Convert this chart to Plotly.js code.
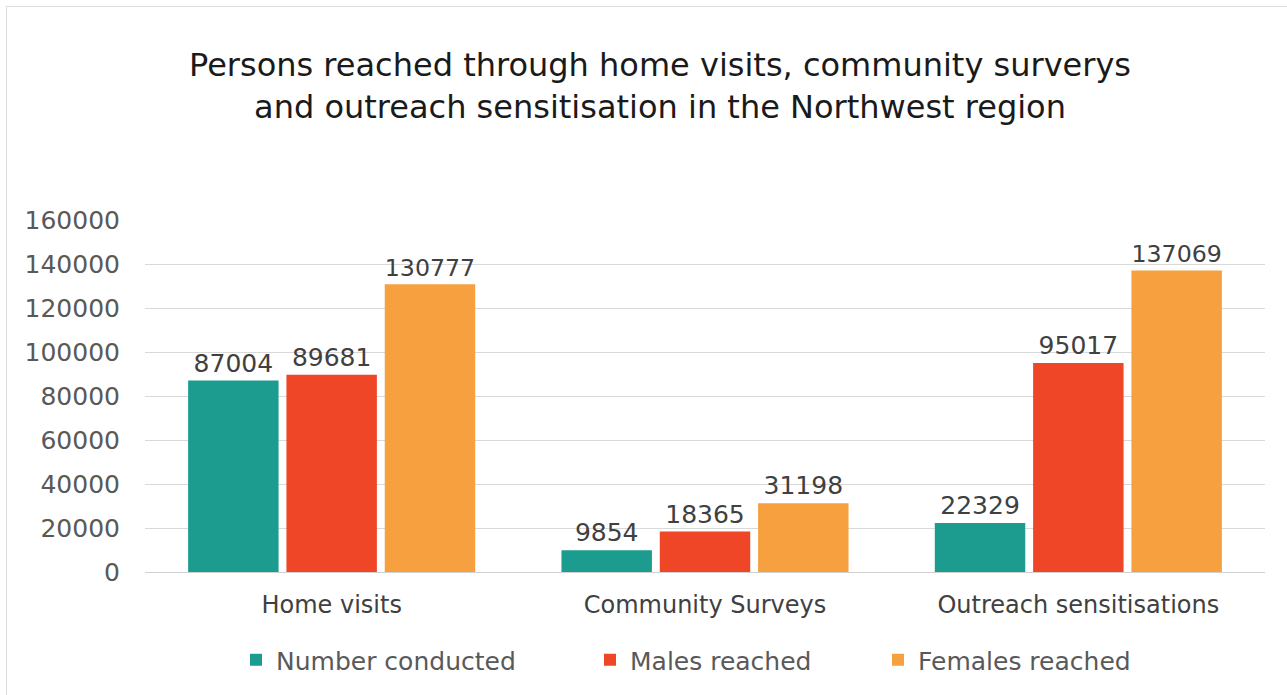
<!DOCTYPE html>
<html>
<head>
<meta charset="utf-8">
<script src="https://cdn.plot.ly/plotly-3.0.1.min.js"></script>
<style>
html,body{margin:0;padding:0;background:#fff;}
#frame{position:absolute;left:6px;top:6px;width:1300px;height:700px;border-left:1px solid #dcdcdc;border-top:1px solid #dcdcdc;}
#chart{position:absolute;left:0;top:0;width:1287px;height:695px;}
</style>
</head>
<body>
<div id="frame"></div>
<div id="chart"></div>
<script>
const categories = ["Home visits", "Community Surveys", "Outreach sensitisations"];
const numberConducted = [87004, 9854, 22329];
const malesReached = [89681, 18365, 95017];
const femalesReached = [130777, 31198, 137069];
const seriesNames = ["Number conducted", "Males reached", "Females reached"];
const yTicks = [0, 20000, 40000, 60000, 80000, 100000, 120000, 140000, 160000];

const FONT = "DejaVu Sans";
const colors = ["#1b9c8f", "#ee4627", "#f6a03f"];
const seriesData = [numberConducted, malesReached, femalesReached];
const legendIds = ["legend", "legend2", "legend3"];

const traces = seriesData.map((vals, i) => ({
  type: "bar",
  name: seriesNames[i],
  x: categories,
  y: vals,
  marker: {color: colors[i], line: {width: 0}},
  text: vals.map(v => String(v)),
  textposition: "outside",
  texttemplate: "%{text}",
  textfont: {family: FONT, size: 25, color: "#404040"},
  cliponaxis: false,
  hoverinfo: "x+y+name",
  legend: legendIds[i]
}));

const legendBase = {
  orientation: "h",
  xref: "container", yref: "container",
  yanchor: "middle", xanchor: "left",
  y: 1 - 660/695,
  font: {family: FONT, size: 25, color: "#595959"},
  bgcolor: "rgba(0,0,0,0)",
  itemwidth: 30
};

const layout = {
  width: 1287, height: 695,
  paper_bgcolor: "rgba(0,0,0,0)",
  plot_bgcolor: "rgba(0,0,0,0)",
  margin: {l: 145, r: 22, t: 220, b: 123},
  title: {
    text: "Persons reached through home visits, community surverys<br>and outreach sensitisation in the Northwest region",
    font: {family: FONT, size: 32, color: "#1a1a1a"},
    x: 660/1287, xanchor: "center", xref: "container",
    y: 1 - 76/695, yanchor: "middle", yref: "container"
  },
  barmode: "group",
  bargap: 0.21,
  bargroupgap: 0.08,
  xaxis: {
    type: "category",
    showgrid: false,
    showline: false,
    zeroline: false,
    ticks: "",
    ticklabelstandoff: 16,
    tickfont: {family: FONT, size: 24, color: "#404040"}
  },
  yaxis: {
    range: [0, 160000],
    tickmode: "array",
    tickvals: yTicks,
    ticktext: yTicks.map(v => String(v)),
    showgrid: true,
    gridcolor: "#d9d9d9",
    gridwidth: 1,
    zeroline: true,
    zerolinecolor: "#d0d0d0",
    zerolinewidth: 1,
    showline: false,
    ticks: "",
    ticklabelstandoff: 24,
    tickfont: {family: FONT, size: 25, color: "#595959"}
  },
  showlegend: true,
  legend: Object.assign({}, legendBase, {x: 236/1287}),
  legend2: Object.assign({}, legendBase, {x: 590/1287}),
  legend3: Object.assign({}, legendBase, {x: 878/1287})
};

Plotly.newPlot("chart", traces, layout, {displayModeBar: false, responsive: false});
</script>
</body>
</html>
